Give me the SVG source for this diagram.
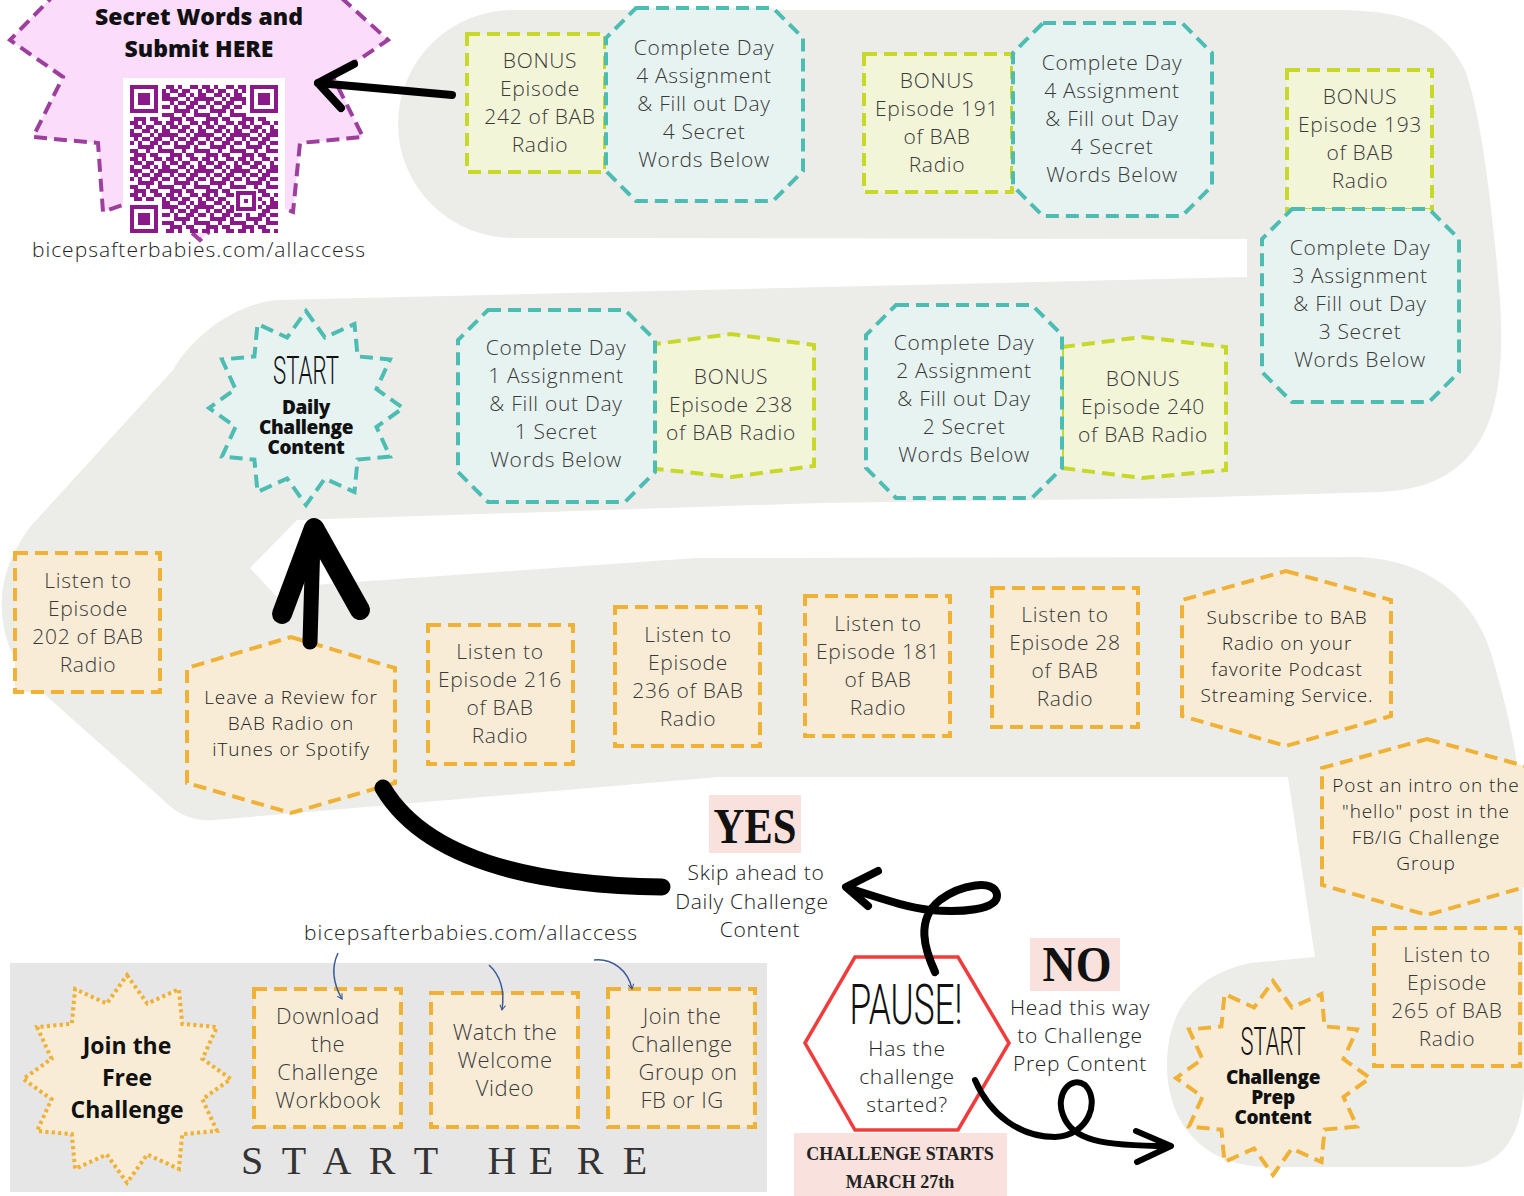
<svg xmlns="http://www.w3.org/2000/svg" xmlns:xlink="http://www.w3.org/1999/xlink" width="1524" height="1196" viewBox="0 0 1524 1196">
<defs>
<style>
.t{font-family:"Open Sans","Liberation Sans",sans-serif;font-size:21px;fill:#3a3a3a;text-anchor:middle;letter-spacing:0.7px;font-weight:300}
.s{font-size:19px;letter-spacing:0.9px;fill:#222}
.c{font-size:22px;letter-spacing:0.5px}
.u{letter-spacing:1px;fill:#222}
.b{font-family:"Open Sans","Liberation Sans",sans-serif;font-weight:800;fill:#111;text-anchor:middle}
.sf{font-family:"Liberation Serif","Times New Roman",serif;fill:#111;text-anchor:middle;font-weight:700}
.sc{font-family:Roboto,"Liberation Sans",sans-serif;font-weight:300;fill:#111;text-anchor:middle}
.lime{fill:#f3f5d9;stroke:#c8d82b;stroke-width:4;stroke-dasharray:13 7}
.teal{fill:#e6f3f1;stroke:#4dbdb4;stroke-width:4;stroke-dasharray:13 7}
.org{fill:#f9ecd6;stroke:#f0b236;stroke-width:4;stroke-dasharray:13 7}
.blk{fill:none;stroke:#000;stroke-linecap:round;stroke-linejoin:round}
.blue{fill:none;stroke:#3c5a99;stroke-width:1.5}
</style>
<polygon id="star" points="0,-97 18.9,-70.5 48.5,-84 51.6,-51.6 84,-48.5 70.5,-18.9 97,0 70.5,18.9 84,48.5 51.6,51.6 48.5,84 18.9,70.5 0,97 -18.9,70.5 -48.5,84 -51.6,51.6 -84,48.5 -70.5,18.9 -97,0 -70.5,-18.9 -84,-48.5 -51.6,-51.6 -48.5,-84 -18.9,-70.5"/>
<pattern id="qr" patternUnits="userSpaceOnUse" x="130" y="85" width="36" height="36">
<path fill="#8a1a8a" d="M0,0h8v4h-8z M12,0h4v4h-4z M24,0h8v4h-8z M4,4h8v4h-8z M16,4h8v4h-8z M32,4h4v4h-4z M0,8h4v4h-4z M12,8h8v4h-8z M24,8h4v4h-4z M32,8h4v4h-4z M0,12h12v4h-12z M20,12h4v4h-4z M28,12h8v4h-8z M4,16h4v4h-4z M12,16h8v4h-8z M24,16h8v4h-8z M0,20h4v4h-4z M8,20h4v4h-4z M20,20h8v4h-8z M32,20h4v4h-4z M8,24h16v4h-16z M28,24h4v4h-4z M0,28h8v4h-8z M16,28h4v4h-4z M28,28h8v4h-8z M4,32h12v4h-12z M20,32h8v4h-8z"/>
</pattern>
<marker id="ba" viewBox="0 0 10 10" refX="8" refY="5" markerWidth="7" markerHeight="7" orient="auto" markerUnits="userSpaceOnUse">
<path d="M1,1 L8,5 L1,9" fill="none" stroke="#3c5a99" stroke-width="1.5"/>
</marker>
</defs>

<rect width="1524" height="1196" fill="#ffffff"/>

<g id="band">
<path fill="#ecece8" d="M513,10 L1330,10 C1400,10 1440,20 1465,70 C1480,110 1492,200 1500,300 C1505,380 1495,430 1465,460 C1440,485 1410,490 1380,492 L1180,498 L820,503 L297,520 L250,568 L277,597 L313,585 L696,558 L1360,557 C1420,560 1470,590 1490,650 C1505,700 1515,740 1522,800 L1524,1090 C1520,1140 1500,1167 1460,1167 L1270,1167 C1200,1167 1167,1120 1167,1065 C1167,1010 1195,975 1250,963 L1315,957 L1288,777 L718,777 L214,820 C190,822 175,812 160,797 L43,693 C20,672 5,650 2,613 C0,580 10,555 30,527 L173,370 C190,340 230,305 277,300 L1247,277 L1247,239 L513,238 A115,114 0 0 1 513,10 Z"/>
<rect x="10" y="963" width="757" height="229" fill="#e6e6e6"/>
</g>

<g id="submit">
<polygon points="57,-8 10,40 63,77 33,137 98,143 103,212 150,195 200,240 250,195 293,212 300,143 363,137 333,77 388,40 335,-8" fill="#fcdcfb" stroke="#9d3f9d" stroke-width="4" stroke-dasharray="13 7"/>
<text class="b" x="199" y="25" font-size="23">Secret Words and</text>
<text class="b" x="199" y="57" font-size="23">Submit HERE</text>
<rect x="123" y="78" width="162" height="155" fill="#fff"/>
<rect x="130" y="85" width="148" height="148" fill="url(#qr)"/>
<g fill="#fff"><rect x="130" y="85" width="32" height="32"/><rect x="246" y="85" width="32" height="32"/><rect x="130" y="201" width="32" height="32"/><rect x="234" y="189" width="24" height="24"/></g>
<g fill="#8a1a8a">
<path fill-rule="evenodd" d="M130,85h28v28h-28z M134,89v20h20v-20z M138,93h12v12h-12z"/>
<path fill-rule="evenodd" d="M250,85h28v28h-28z M254,89v20h20v-20z M258,93h12v12h-12z"/>
<path fill-rule="evenodd" d="M130,205h28v28h-28z M134,209v20h20v-20z M138,213h12v12h-12z"/>
<path fill-rule="evenodd" d="M236,191h20v20h-20z M240,195v12h12v-12z M244,199h4v4h-4z"/>
</g>
<text class="t u" x="199" y="257">bicepsafterbabies.com/allaccess</text>
</g>

<g id="bonus242"><rect class="lime" x="467" y="34" width="138" height="138"/>
<text class="t" x="540"><tspan x="540" y="68">BONUS</tspan><tspan x="540" y="96">Episode</tspan><tspan x="540" y="124">242 of BAB</tspan><tspan x="540" y="152">Radio</tspan></text></g>
<g id="day4a"><polygon class="teal" points="636,8 773,8 803,38 803,171 773,201 636,201 606,171 606,38"/>
<text class="t"><tspan x="704" y="55">Complete Day</tspan><tspan x="704" y="83">4 Assignment</tspan><tspan x="704" y="111">&amp; Fill out Day</tspan><tspan x="704" y="139">4 Secret</tspan><tspan x="704" y="167">Words Below</tspan></text></g>
<g id="bonus191"><rect class="lime" x="864" y="54" width="148" height="138"/>
<text class="t"><tspan x="937" y="88">BONUS</tspan><tspan x="937" y="116">Episode 191</tspan><tspan x="937" y="144">of BAB</tspan><tspan x="937" y="172">Radio</tspan></text></g>
<g id="day4b"><polygon class="teal" points="1043,23 1182,23 1212,53 1212,186 1182,216 1043,216 1013,186 1013,53"/>
<text class="t"><tspan x="1112" y="70">Complete Day</tspan><tspan x="1112" y="98">4 Assignment</tspan><tspan x="1112" y="126">&amp; Fill out Day</tspan><tspan x="1112" y="154">4 Secret</tspan><tspan x="1112" y="182">Words Below</tspan></text></g>
<g id="bonus193"><rect class="lime" x="1287" y="70" width="145" height="140"/>
<text class="t"><tspan x="1360" y="104">BONUS</tspan><tspan x="1360" y="132">Episode 193</tspan><tspan x="1360" y="160">of BAB</tspan><tspan x="1360" y="188">Radio</tspan></text></g>
<g id="day3"><polygon class="teal" points="1292,209 1429,209 1459,239 1459,372 1429,402 1292,402 1262,372 1262,239"/>
<text class="t"><tspan x="1360" y="255">Complete Day</tspan><tspan x="1360" y="283">3 Assignment</tspan><tspan x="1360" y="311">&amp; Fill out Day</tspan><tspan x="1360" y="339">3 Secret</tspan><tspan x="1360" y="367">Words Below</tspan></text></g>

<g id="bonus238"><polygon class="lime" points="648,345 731,334 814,345 814,466 731,477 648,468"/>
<text class="t"><tspan x="731" y="384">BONUS</tspan><tspan x="731" y="412">Episode 238</tspan><tspan x="731" y="440">of BAB Radio</tspan></text></g>
<g id="day1"><polygon class="teal" points="488,310 625,310 655,340 655,472 625,502 488,502 458,472 458,340"/>
<text class="t"><tspan x="556" y="355">Complete Day</tspan><tspan x="556" y="383">1 Assignment</tspan><tspan x="556" y="411">&amp; Fill out Day</tspan><tspan x="556" y="439">1 Secret</tspan><tspan x="556" y="467">Words Below</tspan></text></g>
<g id="bonus240"><polygon class="lime" points="1062,347 1142,337 1226,347 1226,470 1142,478 1062,468"/>
<text class="t"><tspan x="1143" y="386">BONUS</tspan><tspan x="1143" y="414">Episode 240</tspan><tspan x="1143" y="442">of BAB Radio</tspan></text></g>
<g id="day2"><polygon class="teal" points="896,305 1032,305 1062,335 1062,468 1032,498 896,498 866,468 866,335"/>
<text class="t"><tspan x="964" y="350">Complete Day</tspan><tspan x="964" y="378">2 Assignment</tspan><tspan x="964" y="406">&amp; Fill out Day</tspan><tspan x="964" y="434">2 Secret</tspan><tspan x="964" y="462">Words Below</tspan></text></g>

<g id="startDaily"><use href="#star" xlink:href="#star" class="teal" transform="translate(306,408)"/>
<text class="sc" x="306" y="384" font-size="38" textLength="66" lengthAdjust="spacingAndGlyphs">START</text>
<text class="b" font-size="19" style="letter-spacing:-0.3px"><tspan x="306" y="414">Daily</tspan><tspan x="306" y="434">Challenge</tspan><tspan x="306" y="454">Content</tspan></text></g>

<g id="ep202"><rect class="org" x="15" y="553" width="145" height="139"/>
<text class="t"><tspan x="88" y="588">Listen to</tspan><tspan x="88" y="616">Episode</tspan><tspan x="88" y="644">202 of BAB</tspan><tspan x="88" y="672">Radio</tspan></text></g>
<g id="review"><polygon class="org" points="291,637 395,668 395,783 291,813 187,783 187,668"/>
<text class="t s"><tspan x="291" y="704">Leave a Review for</tspan><tspan x="291" y="730">BAB Radio on</tspan><tspan x="291" y="756">iTunes or Spotify</tspan></text></g>
<g id="ep216"><rect class="org" x="428" y="625" width="145" height="139"/>
<text class="t"><tspan x="500" y="659">Listen to</tspan><tspan x="500" y="687">Episode 216</tspan><tspan x="500" y="715">of BAB</tspan><tspan x="500" y="743">Radio</tspan></text></g>
<g id="ep236"><rect class="org" x="615" y="607" width="145" height="139"/>
<text class="t"><tspan x="688" y="642">Listen to</tspan><tspan x="688" y="670">Episode</tspan><tspan x="688" y="698">236 of BAB</tspan><tspan x="688" y="726">Radio</tspan></text></g>
<g id="ep181"><rect class="org" x="805" y="596" width="145" height="140"/>
<text class="t"><tspan x="878" y="631">Listen to</tspan><tspan x="878" y="659">Episode 181</tspan><tspan x="878" y="687">of BAB</tspan><tspan x="878" y="715">Radio</tspan></text></g>
<g id="ep28"><rect class="org" x="992" y="588" width="146" height="139"/>
<text class="t"><tspan x="1065" y="622">Listen to</tspan><tspan x="1065" y="650">Episode 28</tspan><tspan x="1065" y="678">of BAB</tspan><tspan x="1065" y="706">Radio</tspan></text></g>
<g id="subscribe"><polygon class="org" points="1286,571 1391,600 1391,716 1286,746 1182,716 1182,600"/>
<text class="t s"><tspan x="1287" y="624">Subscribe to BAB</tspan><tspan x="1287" y="650">Radio on your</tspan><tspan x="1287" y="676">favorite Podcast</tspan><tspan x="1287" y="702">Streaming Service.</tspan></text></g>
<g id="intro"><polygon class="org" points="1427,739 1532,768 1532,885 1427,915 1322,885 1322,768"/>
<text class="t s"><tspan x="1426" y="792">Post an intro on the</tspan><tspan x="1426" y="818">"hello" post in the</tspan><tspan x="1426" y="844">FB/IG Challenge</tspan><tspan x="1426" y="870">Group</tspan></text></g>
<g id="ep265"><rect class="org" x="1374" y="928" width="146" height="138"/>
<text class="t"><tspan x="1447" y="962">Listen to</tspan><tspan x="1447" y="990">Episode</tspan><tspan x="1447" y="1018">265 of BAB</tspan><tspan x="1447" y="1046">Radio</tspan></text></g>
<g id="startPrep"><use href="#star" xlink:href="#star" class="org" transform="translate(1273,1078)"/>
<text class="sc" x="1273" y="1055" font-size="38" textLength="65" lengthAdjust="spacingAndGlyphs">START</text>
<text class="b" font-size="19" style="letter-spacing:-0.3px"><tspan x="1273" y="1084">Challenge</tspan><tspan x="1273" y="1104">Prep</tspan><tspan x="1273" y="1124">Content</tspan></text></g>

<g id="join"><use href="#star" xlink:href="#star" transform="translate(127,1079) scale(1.07)" fill="#f9ecd6" stroke="#f0b236" stroke-width="3.8" stroke-dasharray="3 3"/>
<text class="b" font-size="23" style="font-weight:700"><tspan x="127" y="1054">Join the</tspan><tspan x="127" y="1086">Free</tspan><tspan x="127" y="1118">Challenge</tspan></text></g>
<g id="download"><rect class="org" x="254" y="989" width="147" height="138"/>
<text class="t c"><tspan x="328" y="1024">Download</tspan><tspan x="328" y="1052">the</tspan><tspan x="328" y="1080">Challenge</tspan><tspan x="328" y="1108">Workbook</tspan></text></g>
<g id="watch"><rect class="org" x="431" y="993" width="147" height="134"/>
<text class="t c"><tspan x="505" y="1040">Watch the</tspan><tspan x="505" y="1068">Welcome</tspan><tspan x="505" y="1096">Video</tspan></text></g>
<g id="group"><rect class="org" x="608" y="989" width="147" height="138"/>
<text class="t c"><tspan x="682" y="1024">Join the</tspan><tspan x="682" y="1052">Challenge</tspan><tspan x="688" y="1080">Group on</tspan><tspan x="682" y="1108">FB or IG</tspan></text></g>
<text id="startHere" class="sf" font-size="40" style="font-weight:400;fill:#333" x="252 294 337 382 426 464 502 541 590 635" y="1174">START HERE</text>
<text id="url2" class="t u" x="471" y="940">bicepsafterbabies.com/allaccess</text>

<g id="yes"><rect x="709" y="795" width="92" height="58" fill="#f9e1dd"/>
<text class="sf" x="755" y="843" font-size="50" textLength="83" lengthAdjust="spacingAndGlyphs">YES</text>
<text class="t" style="fill:#222"><tspan x="756" y="880">Skip ahead to</tspan><tspan x="752" y="909">Daily Challenge</tspan><tspan x="760" y="937">Content</tspan></text></g>

<g id="pause"><polygon points="805,1043 855,957 958,957 1009,1043 958,1130 855,1130" fill="#fff" stroke="#f23c3c" stroke-width="3.5"/>
<text class="sc" x="906" y="1024" font-size="56" textLength="113" lengthAdjust="spacingAndGlyphs">PAUSE!</text>
<text class="t" style="fill:#222"><tspan x="907" y="1056">Has the</tspan><tspan x="907" y="1084">challenge</tspan><tspan x="907" y="1112">started?</tspan></text></g>
<g id="starts"><rect x="794" y="1133" width="213" height="63" fill="#f9e1dd"/>
<text class="sf" font-size="18" style="fill:#222"><tspan x="900" y="1160">CHALLENGE STARTS</tspan><tspan x="900" y="1188">MARCH 27th</tspan></text></g>
<g id="no"><rect x="1030" y="938" width="90" height="53" fill="#f9e1dd"/>
<text class="sf" x="1077" y="981" font-size="50" textLength="69" lengthAdjust="spacingAndGlyphs">NO</text>
<text class="t" style="fill:#222"><tspan x="1080" y="1015">Head this way</tspan><tspan x="1080" y="1043">to Challenge</tspan><tspan x="1080" y="1071">Prep Content</tspan></text></g>

<g id="connectors">
<path class="blk" stroke-width="8" d="M452,95 L318,83 M354,64 L318,83 L341,108"/>
<path class="blk" stroke-width="15" stroke-linecap="butt" d="M310,642 L313,540"/>
<path class="blk" stroke-width="20" stroke-linecap="butt" d="M282,614 L314,528 L360,610"/>
<path class="blk" stroke-width="17" stroke-linecap="butt" d="M383,788 C420,850 510,885 662,887"/>
<path class="blk" stroke-width="8" d="M935,972 C925,950 915,920 940,900 C960,885 995,878 997,895 C998,910 960,913 930,910 C905,907 880,898 848,888 M878,871 L846,887 L868,906"/>
<path class="blk" stroke-width="6" d="M975,1080 C990,1115 1020,1137 1055,1137 C1090,1135 1100,1100 1085,1085 C1070,1075 1055,1095 1063,1115 C1072,1140 1100,1146 1170,1146 M1136,1131 L1171,1146 L1137,1162"/>
<path class="blue" marker-end="url(#ba)" d="M338,953 C330,970 334,985 342,999"/>
<path class="blue" marker-end="url(#ba)" d="M489,965 C500,975 505,990 502,1010"/>
<path class="blue" marker-end="url(#ba)" d="M594,960 C612,958 628,970 632,989"/>
</g>
</svg>
